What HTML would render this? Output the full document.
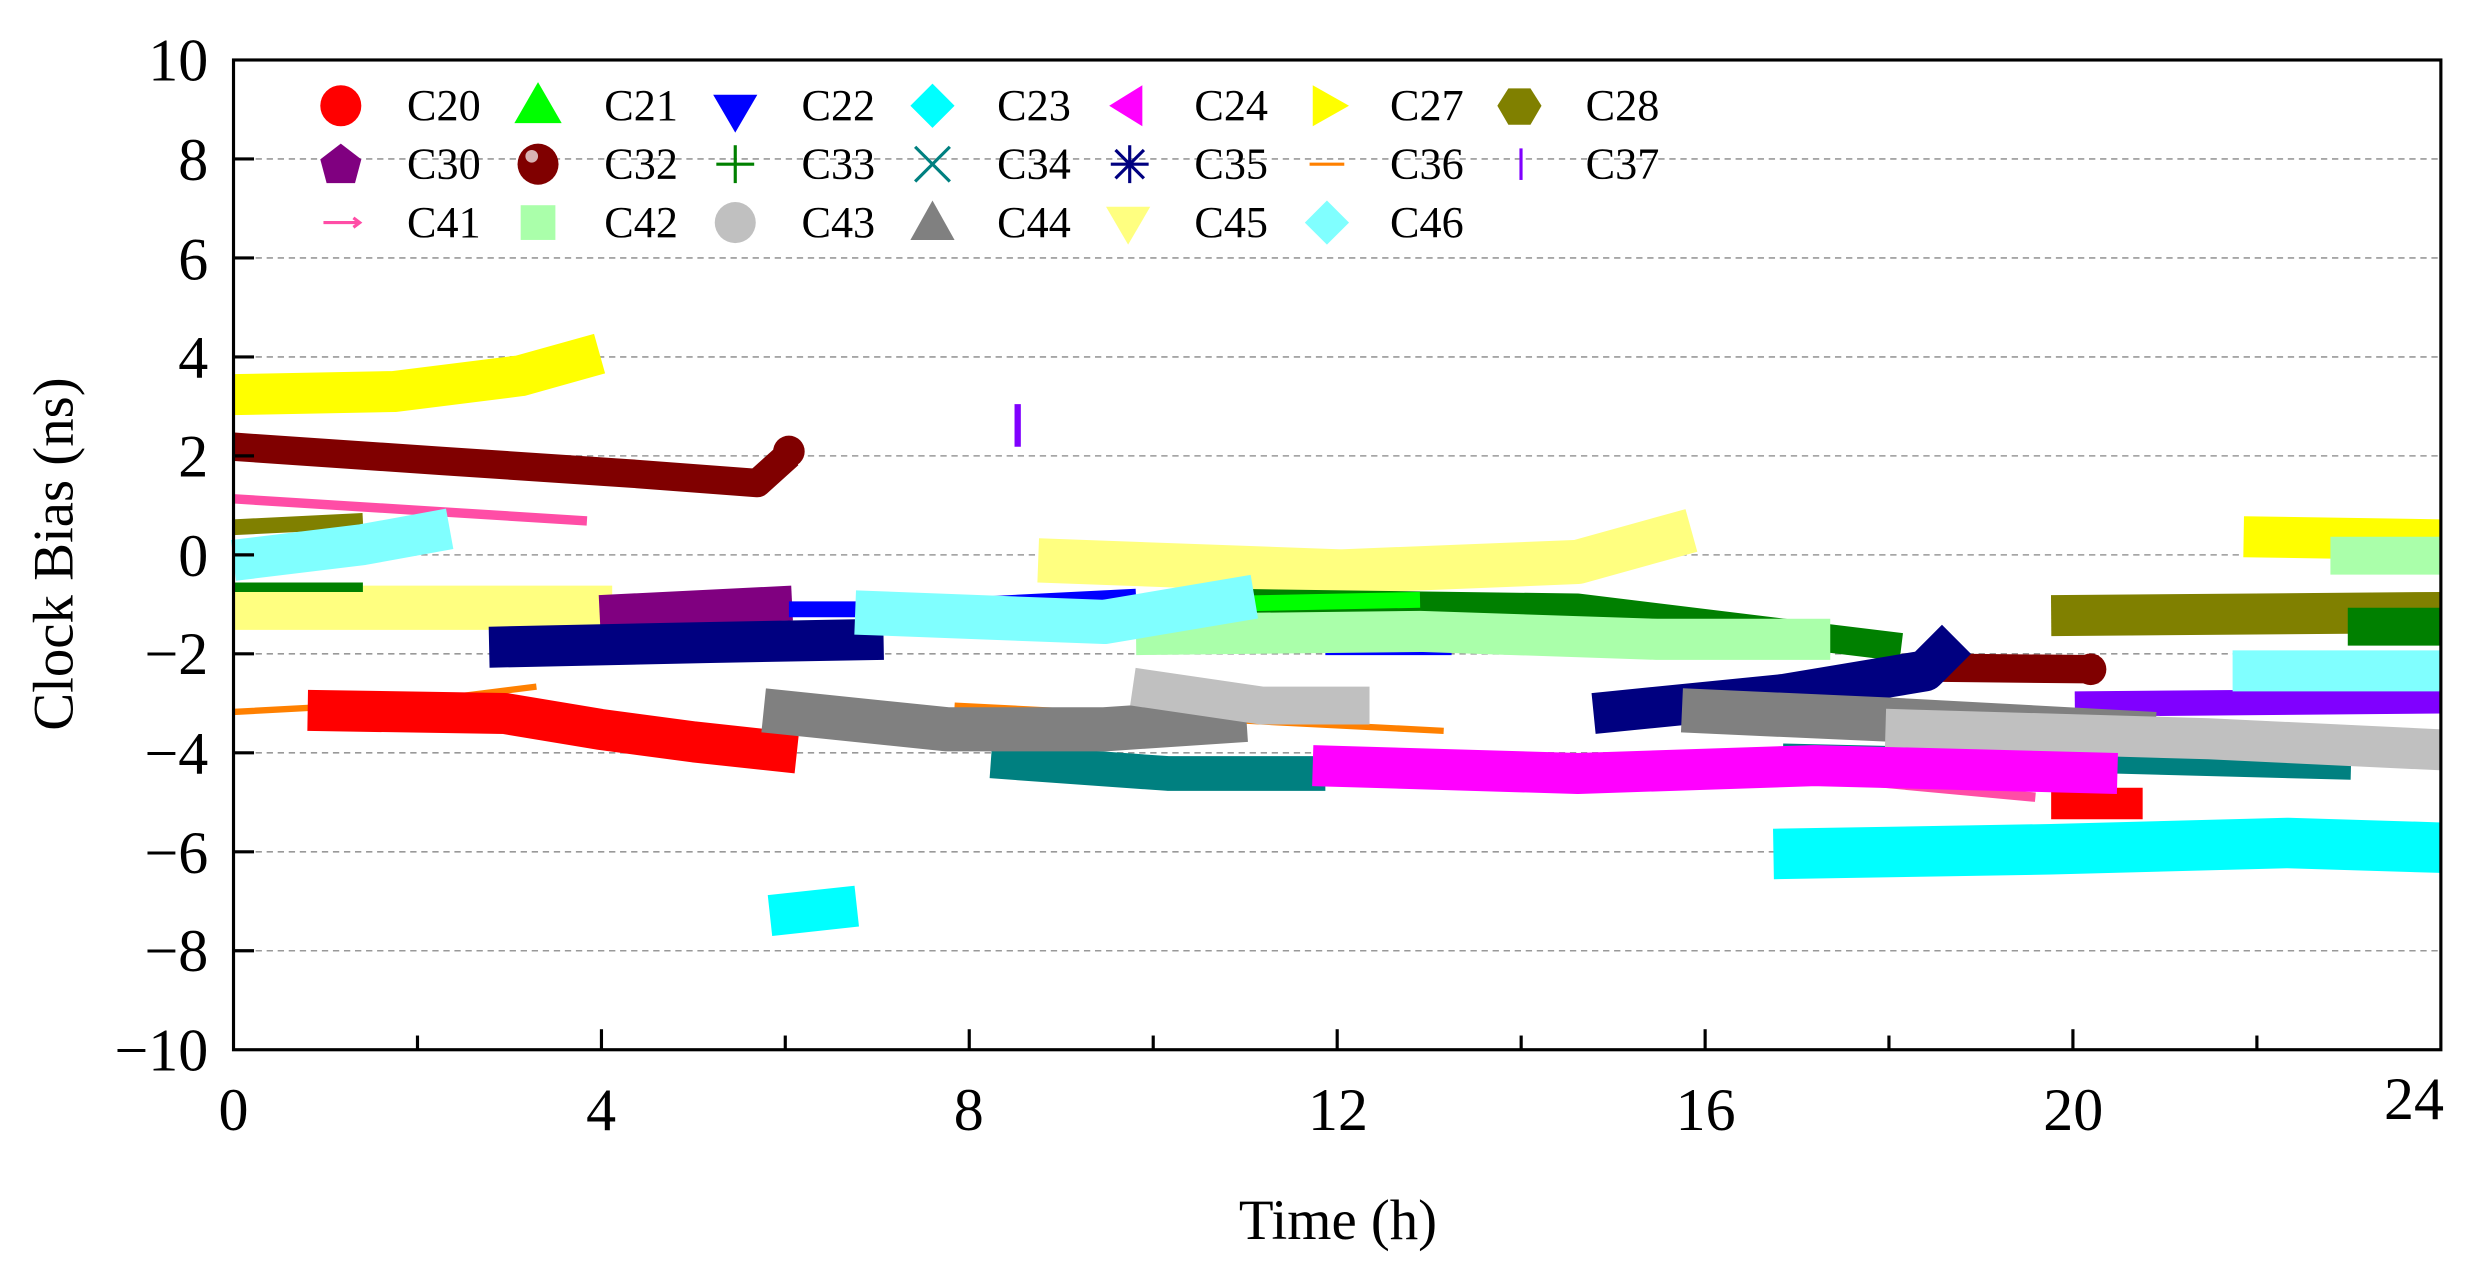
<!DOCTYPE html>
<html><head><meta charset="utf-8"><style>html,body{margin:0;padding:0;background:#fff}svg{display:block}</style></head>
<body>
<svg width="2474" height="1266" viewBox="0 0 1568 802" preserveAspectRatio="none" xmlns="http://www.w3.org/2000/svg" font-family="Liberation Serif, serif">
<rect width="1568" height="802" fill="#fff"/>
<g stroke="#999" stroke-width="1" stroke-dasharray="4,3">
<line x1="148" y1="100.7" x2="1547" y2="100.7"/><line x1="148" y1="163.4" x2="1547" y2="163.4"/>
<line x1="148" y1="226.1" x2="1547" y2="226.1"/><line x1="148" y1="288.8" x2="1547" y2="288.8"/>
<line x1="148" y1="351.5" x2="1547" y2="351.5"/><line x1="148" y1="414.2" x2="1547" y2="414.2"/>
<line x1="148" y1="476.9" x2="1547" y2="476.9"/><line x1="148" y1="539.6" x2="1547" y2="539.6"/>
<line x1="148" y1="602.3" x2="1547" y2="602.3"/>
</g>
<g fill="none" stroke-linecap="butt" stroke-linejoin="round">
<polyline points="148,250 250,248 330,238 380,224" stroke="#ffff00" stroke-width="26"/>
<polyline points="1422,340 1547,342" stroke="#ffff00" stroke-width="26"/>
<line x1="645" y1="256" x2="645" y2="283" stroke="#8000ff" stroke-width="4"/>
<polyline points="148,283 280,292 400,300 480,306 500,288" stroke="#800000" stroke-width="18"/>
<circle cx="500" cy="286" r="10" fill="#800000"/>
<polyline points="1230,423 1330,424" stroke="#800000" stroke-width="18"/>
<circle cx="1325" cy="424" r="10" fill="#800000"/>
<polyline points="148,316 260,323 372,330" stroke="#ff4da6" stroke-width="6"/>
<polyline points="1010,485 1150,492 1290,505" stroke="#ff4da6" stroke-width="6"/>
<polyline points="148,334 230,330" stroke="#808000" stroke-width="10"/>
<polyline points="1300,390 1547,388" stroke="#808000" stroke-width="26"/>
<polyline points="148,385 388,385" stroke="#ffff80" stroke-width="28"/>
<polyline points="658,355 850,362 1000,356 1072,336" stroke="#ffff80" stroke-width="28"/>
<polyline points="148,372 230,372" stroke="#008000" stroke-width="6"/>
<polyline points="780,382 1000,385 1205,410" stroke="#008000" stroke-width="18"/>
<polyline points="700,384 900,380" stroke="#00ff00" stroke-width="10"/>
<polyline points="1488,397 1547,397" stroke="#008000" stroke-width="24"/>
<polyline points="380,388 502,382" stroke="#800080" stroke-width="22"/>
<polyline points="1315,446 1547,444" stroke="#8000ff" stroke-width="16"/>
<polyline points="310,410 450,407 560,405" stroke="#000080" stroke-width="26"/>
<polyline points="1010,452 1130,440 1220,425 1240,405" stroke="#000080" stroke-width="26"/>
<polyline points="500,386 560,386 720,378" stroke="#0000ff" stroke-width="10"/>
<polyline points="840,410 920,410" stroke="#0000ff" stroke-width="10"/>
<polyline points="720,402 900,400 1050,405 1160,405" stroke="#aaffaa" stroke-width="26"/>
<polyline points="1477,352 1547,352" stroke="#aaffaa" stroke-width="24"/>
<polyline points="148,355 230,345 285,335" stroke="#80ffff" stroke-width="26"/>
<polyline points="542,388 700,394 795,378" stroke="#80ffff" stroke-width="28"/>
<polyline points="1415,425 1547,425" stroke="#80ffff" stroke-width="26"/>
<polyline points="148,451 260,445 340,435" stroke="#ff8000" stroke-width="4"/>
<polyline points="605,447 760,455 915,463" stroke="#ff8000" stroke-width="4"/>
<polyline points="195,450 320,452 380,462 440,470 505,477" stroke="#ff0000" stroke-width="26"/>
<polyline points="1300,509 1358,509" stroke="#ff0000" stroke-width="20"/>
<polyline points="628,482 740,490 840,490" stroke="#008080" stroke-width="22"/>
<polyline points="1130,478 1300,482 1490,487" stroke="#008080" stroke-width="14"/>
<polyline points="484,450 600,462 700,462 790,456" stroke="#808080" stroke-width="28"/>
<polyline points="1066,450 1200,456 1366,465" stroke="#808080" stroke-width="28"/>
<polyline points="718,435 800,447 868,447" stroke="#c0c0c0" stroke-width="24"/>
<polyline points="1195,462 1400,468 1547,475" stroke="#c0c0c0" stroke-width="26"/>
<polyline points="832,485 1000,490 1150,485 1342,490" stroke="#ff00ff" stroke-width="26"/>
<polyline points="488,580 543,574" stroke="#00ffff" stroke-width="26"/>
<polyline points="1124,541 1300,538 1450,534 1547,537" stroke="#00ffff" stroke-width="32"/>
</g>
<rect x="148" y="38" width="1399" height="627" fill="none" stroke="#000" stroke-width="2"/>
<g stroke="#000" stroke-width="2">
<line x1="148" y1="100.7" x2="161" y2="100.7"/><line x1="148" y1="163.4" x2="161" y2="163.4"/><line x1="148" y1="226.1" x2="161" y2="226.1"/><line x1="148" y1="288.8" x2="161" y2="288.8"/><line x1="148" y1="351.5" x2="161" y2="351.5"/><line x1="148" y1="414.2" x2="161" y2="414.2"/><line x1="148" y1="476.9" x2="161" y2="476.9"/><line x1="148" y1="539.6" x2="161" y2="539.6"/><line x1="148" y1="602.3" x2="161" y2="602.3"/>
<line x1="264.6" y1="665" x2="264.6" y2="656"/><line x1="381.2" y1="665" x2="381.2" y2="652"/><line x1="497.7" y1="665" x2="497.7" y2="656"/><line x1="614.3" y1="665" x2="614.3" y2="652"/><line x1="730.9" y1="665" x2="730.9" y2="656"/><line x1="847.5" y1="665" x2="847.5" y2="652"/><line x1="964.1" y1="665" x2="964.1" y2="656"/><line x1="1080.7" y1="665" x2="1080.7" y2="652"/><line x1="1197.2" y1="665" x2="1197.2" y2="656"/><line x1="1313.8" y1="665" x2="1313.8" y2="652"/><line x1="1430.4" y1="665" x2="1430.4" y2="656"/>
</g>
<g font-size="38" text-anchor="end" fill="#000">
<text x="132" y="51">10</text><text x="132" y="114">8</text><text x="132" y="177">6</text><text x="132" y="239">4</text><text x="132" y="302">2</text><text x="132" y="365">0</text><text x="132" y="427">−2</text><text x="132" y="490">−4</text><text x="132" y="553">−6</text><text x="132" y="615">−8</text><text x="132" y="678">−10</text>
</g>
<g font-size="38" text-anchor="middle" fill="#000">
<text x="148" y="716">0</text><text x="381" y="716">4</text><text x="614" y="716">8</text><text x="848" y="716">12</text><text x="1081" y="716">16</text><text x="1314" y="716">20</text><text x="1530" y="709">24</text>
<text x="848" y="785" font-size="36">Time (h)</text>
<text transform="translate(46,351) rotate(-90)" font-size="36">Clock Bias (ns)</text>
</g>
<g>
<ellipse cx="216" cy="67" rx="13" ry="13" fill="#ff0000"/>
<polygon points="341,52 356,78 326,78" fill="#00ff00"/>
<polygon points="452,60 480,60 466,84" fill="#0000ff"/>
<polygon points="591,53 605,67 591,81 577,67" fill="#00ffff"/>
<polygon points="703,67 724,54 724,80" fill="#ff00ff"/>
<polygon points="832,54 832,80 855,67" fill="#ffff00"/>
<polygon points="956,56 970,56 977,67 970,79 956,79 949,67" fill="#808000"/>
<polygon points="216,91 229,101 225,116 207,116 203,101" fill="#800080"/>
<circle cx="341" cy="104" r="13" fill="#800000"/><circle cx="337" cy="99" r="4" fill="#fff" opacity="0.7"/>
<g stroke="#008000" stroke-width="2"><line x1="466" y1="92" x2="466" y2="116"/><line x1="454" y1="104" x2="478" y2="104"/></g>
<g stroke="#008080" stroke-width="2"><line x1="580" y1="93" x2="602" y2="115"/><line x1="602" y1="93" x2="580" y2="115"/></g>
<g stroke="#000080" stroke-width="2"><line x1="716" y1="92" x2="716" y2="116"/><line x1="704" y1="104" x2="728" y2="104"/><line x1="707" y1="95" x2="725" y2="113"/><line x1="725" y1="95" x2="707" y2="113"/></g>
<line x1="830" y1="104" x2="852" y2="104" stroke="#ff8000" stroke-width="2"/>
<line x1="964" y1="94" x2="964" y2="114" stroke="#8000ff" stroke-width="2"/>
<g stroke="#ff4da6" stroke-width="2"><line x1="205" y1="141" x2="228" y2="141"/><polyline points="224,138 228,141 224,144" fill="none"/></g>
<rect x="330" y="130" width="22" height="22" fill="#aaffaa"/>
<ellipse cx="466" cy="141" rx="13" ry="13" fill="#c0c0c0"/>
<polygon points="591,127 605,152 577,152" fill="#808080"/>
<polygon points="701,131 729,131 715,155" fill="#ffff80"/>
<polygon points="841,127 855,141 841,155 827,141" fill="#80ffff"/>
</g>
<g font-size="28" fill="#000">
<text x="258" y="76">C20</text><text x="383" y="76">C21</text><text x="508" y="76">C22</text><text x="632" y="76">C23</text><text x="757" y="76">C24</text><text x="881" y="76">C27</text><text x="1005" y="76">C28</text>
<text x="258" y="113">C30</text><text x="383" y="113">C32</text><text x="508" y="113">C33</text><text x="632" y="113">C34</text><text x="757" y="113">C35</text><text x="881" y="113">C36</text><text x="1005" y="113">C37</text>
<text x="258" y="150">C41</text><text x="383" y="150">C42</text><text x="508" y="150">C43</text><text x="632" y="150">C44</text><text x="757" y="150">C45</text><text x="881" y="150">C46</text>
</g>
</svg>
</body></html>
